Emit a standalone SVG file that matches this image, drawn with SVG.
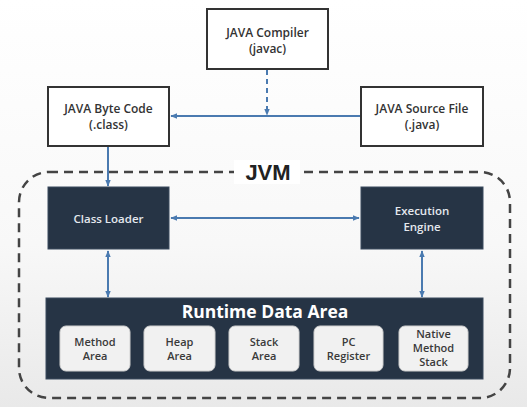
<svg xmlns="http://www.w3.org/2000/svg" width="527" height="407" viewBox="0 0 527 407">
<defs>
<linearGradient id="bg" x1="0" y1="0" x2="0" y2="1">
<stop offset="0" stop-color="#ffffff"/>
<stop offset="0.6" stop-color="#f8f8f8"/>
<stop offset="1" stop-color="#e9e9e9"/>
</linearGradient>
<marker id="ah" viewBox="0 0 10 10" refX="9" refY="5" markerWidth="7" markerHeight="7" orient="auto-start-reverse" markerUnits="userSpaceOnUse">
<path d="M0,1 L10,5 L0,9 z" fill="#4a7ab0"/>
</marker>
<style>
.wbox{fill:#ffffff;stroke:#333;stroke-width:2}
.dbox{fill:#263445;stroke:#3a4a5e;stroke-width:1}
.sbox{fill:#f1f1f1;stroke:#d0d0d0;stroke-width:1}
.t{font-family:"Open Sans","Noto Sans",sans-serif;font-size:12px;font-weight:600;text-anchor:middle;fill:#333}
.tw{font-family:"Open Sans","Noto Sans",sans-serif;font-size:11.5px;text-anchor:middle;fill:#e4e8ee;font-weight:600}
.ts{font-family:"Open Sans","Noto Sans",sans-serif;font-size:11px;font-weight:600;text-anchor:middle;fill:#3a3a3a}
.c{stroke:#4a7ab0;stroke-width:2;fill:none}
</style>
</defs>
<rect width="527" height="407" fill="url(#bg)"/>
<g id="jvm">
<rect x="19" y="172" width="491" height="226" rx="30" fill="none" stroke="#444" stroke-width="2.5" stroke-dasharray="9,6"/>
<rect x="234" y="160" width="66" height="24" fill="#ffffff"/>
<text x="268" y="180" font-family="Liberation Sans, Arial, sans-serif" font-size="22" font-weight="bold" text-anchor="middle" fill="#222">JVM</text>
</g>
<g id="connectors">
<line class="c" x1="361" y1="116" x2="171" y2="116" marker-end="url(#ah)"/>
<line class="c" x1="267" y1="70" x2="267" y2="115" stroke-dasharray="5,4" marker-end="url(#ah)"/>
<line class="c" x1="108" y1="147" x2="108" y2="186" marker-end="url(#ah)"/>
<line class="c" x1="171" y1="218" x2="359" y2="218" marker-start="url(#ah)" marker-end="url(#ah)"/>
<line class="c" x1="108" y1="251" x2="108" y2="297" marker-start="url(#ah)" marker-end="url(#ah)"/>
<line class="c" x1="422" y1="251" x2="422" y2="297" marker-start="url(#ah)" marker-end="url(#ah)"/>
</g>
<g id="compiler">
<rect class="wbox" x="207" y="9" width="121" height="60"/>
<text class="t" x="267.5" y="37">JAVA Compiler</text>
<text class="t" x="267.5" y="53">(javac)</text>
</g>
<g id="bytecode">
<rect class="wbox" x="48" y="87" width="121" height="59"/>
<text class="t" x="108.5" y="113">JAVA Byte Code</text>
<text class="t" x="108.5" y="129">(.class)</text>
</g>
<g id="source">
<rect class="wbox" x="361" y="87" width="122" height="59"/>
<text class="t" x="422" y="113">JAVA Source File</text>
<text class="t" x="422" y="129">(.java)</text>
</g>
<g id="classloader">
<rect class="dbox" x="48" y="187" width="121" height="62"/>
<text class="tw" x="108.5" y="223">Class Loader</text>
</g>
<g id="engine">
<rect class="dbox" x="361" y="187" width="122" height="62"/>
<text class="tw" x="422" y="215">Execution</text>
<text class="tw" x="422" y="231">Engine</text>
</g>
<g id="runtime">
<rect class="dbox" x="46" y="298" width="437" height="81"/>
<text x="265" y="318" font-family="'Open Sans','Noto Sans',sans-serif" font-size="17.5" font-weight="bold" text-anchor="middle" fill="#ffffff">Runtime Data Area</text>
</g>
<g id="method">
<rect class="sbox" x="60" y="326" width="70" height="45" rx="6"/>
<text class="ts" x="95" y="345.5">Method</text>
<text class="ts" x="95" y="360">Area</text>
</g>
<g id="heap">
<rect class="sbox" x="144" y="326" width="71" height="45" rx="6"/>
<text class="ts" x="179.5" y="345.5">Heap</text>
<text class="ts" x="179.5" y="360">Area</text>
</g>
<g id="stack">
<rect class="sbox" x="229" y="326" width="70" height="45" rx="6"/>
<text class="ts" x="264" y="345.5">Stack</text>
<text class="ts" x="264" y="360">Area</text>
</g>
<g id="pc">
<rect class="sbox" x="314" y="326" width="69" height="45" rx="6"/>
<text class="ts" x="348.5" y="345.5">PC</text>
<text class="ts" x="348.5" y="360">Register</text>
</g>
<g id="native">
<rect class="sbox" x="399" y="326" width="69" height="45" rx="6"/>
<text class="ts" x="433.5" y="338">Native</text>
<text class="ts" x="433.5" y="352">Method</text>
<text class="ts" x="433.5" y="366">Stack</text>
</g>
</svg>
